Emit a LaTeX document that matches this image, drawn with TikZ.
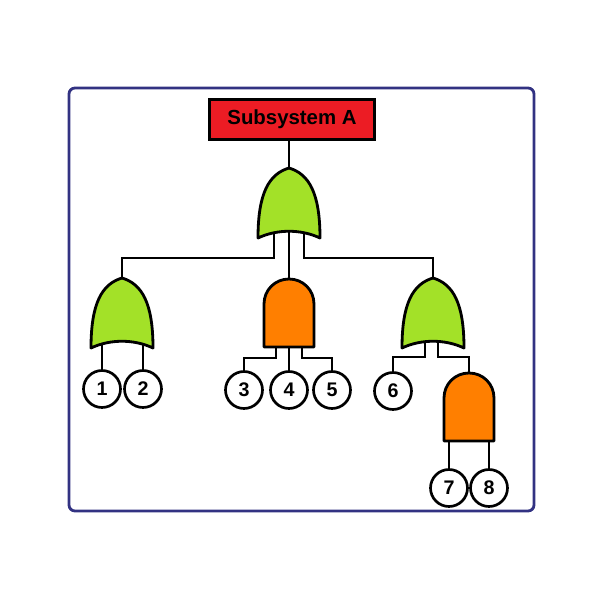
\documentclass[tikz,border=0pt]{standalone}
\usepackage{fontspec}
\setmainfont{Liberation Sans}
\usepackage{xcolor}
\definecolor{ColFrame}{RGB}{50,50,130}
\definecolor{ColTop}{RGB}{236,28,36}
\definecolor{ColOr}{RGB}{163,225,40}
\definecolor{ColAnd}{RGB}{255,127,0}
\usepackage{tikz}
\usetikzlibrary{backgrounds}
\tikzstyle{Top}=[draw=black,fill=ColTop,line width=3.6pt,minimum width=8.25cm,
minimum height=2.0cm,inner sep=0pt,font=\bfseries\fontsize{29}{31}\selectfont]
\tikzstyle{Basic}=[circle,draw=black,fill=white,line width=3.8pt,
minimum size=1.85cm,inner sep=0pt,font=\bfseries\fontsize{28}{30}\selectfont]
\tikzstyle{Edge}=[draw=black,line width=4pt]
\tikzstyle{Gate}=[draw=black,line width=4pt,line join=round]
\tikzstyle{Frame}=[draw=ColFrame,line width=4pt,rounded corners=0.3cm]
\tikzset{
  pics/orgate/.style={code={
    \path[Gate,fill=ColOr](0,0)..controls(20,6)and(31,25)..(31,70)
      ..controls(12,61)and(-12,61)..(-31,70)
      ..controls(-31,25)and(-20,6)..cycle;
    \coordinate(-out)at(0,0);}},
  pics/andgate/.style={code={
    \path[Gate,fill=ColAnd](-25,68)--(-25,25)..controls(-25,11)and(-14,0)..(0,0)
      ..controls(14,0)and(25,11)..(25,25)--(25,68)--cycle;
    \coordinate(-out)at(0,0);}},
}

\begin{document}
\begin{tikzpicture}[x=0.05cm,y=-0.05cm]
        \useasboundingbox(0,0)rectangle(600,600);
        \draw[Frame](69,88)rectangle(534,511);
        % top event and gates
        \node[Top](ttl)at(292,119.5){Subsystem A};
        \pic(G0)at(289,168){orgate};
        \pic(G1)at(122,278){orgate};
        \pic(G2)at(289,279){andgate};
        \pic(G3)at(433,278){orgate};
        \pic(G4)at(469,373){andgate};
        % gate inputs
        \coordinate(G0a)at(274,230);
        \coordinate(G0b)at(289,232);
        \coordinate(G0c)at(304,230);
        \coordinate(G1a)at(102,340);
        \coordinate(G1b)at(143,340);
        \coordinate(G2a)at(276,345);
        \coordinate(G2b)at(289,345);
        \coordinate(G2c)at(302,345);
        \coordinate(G3a)at(425,340);
        \coordinate(G3b)at(438,340);
        \coordinate(G4a)at(449,439);
        \coordinate(G4b)at(489,439);
        % basic events
        \node[Basic](e1)at(102,389){1};
        \node[Basic](e2)at(143,389){2};
        \node[Basic](e3)at(244,390){3};
        \node[Basic](e4)at(289,390){4};
        \node[Basic](e5)at(332,390){5};
        \node[Basic](e6)at(393,391){6};
        \node[Basic](e7)at(449,488){7};
        \node[Basic](e8)at(489,488){8};
        \begin{scope}[on background layer]
        \draw[Edge](G0-out|-ttl.south)--(G0-out);
        \draw[Edge](G0a)--++(0,28)-|(G1-out);
        \draw[Edge](G0b)--(G2-out);
        \draw[Edge](G0c)--++(0,28)-|(G3-out);
        \draw[Edge](G1a)--(e1);
        \draw[Edge](G1b)--(e2);
        \draw[Edge](G2a)--++(0,13)-|(e3);
        \draw[Edge](G2b)--(e4);
        \draw[Edge](G2c)--++(0,13)-|(e5);
        \draw[Edge](G3a)--++(0,17)-|(e6);
        \draw[Edge](G3b)--++(0,17)-|(G4-out);
        \draw[Edge](G4a)--(e7);
        \draw[Edge](G4b)--(e8);
        \end{scope}
    \end{tikzpicture}
\end{document}
